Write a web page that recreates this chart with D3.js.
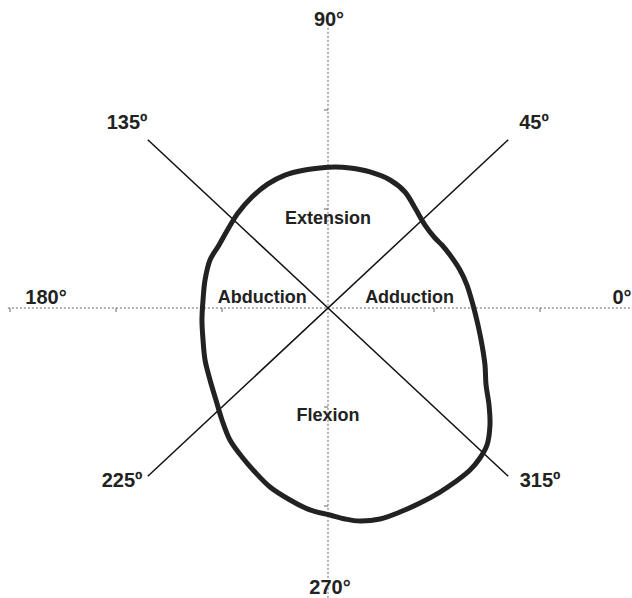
<!DOCTYPE html>
<html><head><meta charset="utf-8">
<script src="https://cdn.jsdelivr.net/npm/d3@7"></script>
<style>body{margin:0;background:#fff}svg{display:block}text{font-family:"Liberation Sans",Arial,sans-serif;font-weight:bold;fill:#222}</style>
</head><body>
<script>
// Angle labels (degrees)
const angleLabels = [0, 45, 90, 135, 180, 225, 270, 315];
// Region labels and their positions in axis units
const regionLabels = ["Extension", "Adduction", "Flexion", "Abduction"];
const regionX = [0, 0.77, 0, -0.62];
const regionY = [0.91, 0.11, -1.08, 0.11];
// Closed trace (x, y) in axis units
const traceX = [0.066,0.208,0.396,0.585,0.726,0.821,0.915,1.009,1.075,1.151,1.245,1.311,1.368,1.415,1.453,1.481,1.491,1.519,1.528,1.500,1.434,1.340,1.198,1.057,0.868,0.679,0.491,0.302,0.160,0.019,-0.170,-0.358,-0.547,-0.689,-0.811,-0.925,-1.000,-1.057,-1.113,-1.160,-1.179,-1.189,-1.179,-1.160,-1.113,-1.028,-0.943,-0.849,-0.717,-0.566,-0.406,-0.217,-0.075];
const traceY = [1.424,1.414,1.374,1.293,1.172,1.010,0.838,0.707,0.636,0.535,0.384,0.232,0.030,-0.172,-0.374,-0.576,-0.778,-0.980,-1.182,-1.384,-1.515,-1.636,-1.758,-1.859,-1.970,-2.061,-2.131,-2.152,-2.131,-2.091,-2.040,-1.939,-1.808,-1.657,-1.505,-1.333,-1.131,-0.929,-0.727,-0.525,-0.323,-0.121,0.081,0.283,0.485,0.636,0.798,0.960,1.121,1.253,1.343,1.394,1.414];
const axisTicks = [-3, -2, -1, 1, 2, 3];
const diagExtent = 1.7;

const W = 632, H = 598;
const x = d3.scaleLinear().domain([-3, 3]).range([10, 646]);
const y = d3.scaleLinear().domain([-3, 3]).range([605, 11]);

const svg = d3.select("body").append("svg").attr("width", W).attr("height", H);

// dotted axes
svg.append("line").attr("x1", x(-3.02)).attr("x2", x(2.88)).attr("y1", y(0)).attr("y2", y(0))
  .attr("stroke", "#666").attr("stroke-width", 1).attr("stroke-dasharray", "2,2");
svg.append("line").attr("x1", x(0)).attr("x2", x(0)).attr("y1", y(2.83)).attr("y2", y(-2.95))
  .attr("stroke", "#666").attr("stroke-width", 1).attr("stroke-dasharray", "2,2");
// ticks
svg.selectAll(".xt").data(axisTicks).join("line").attr("class", "xt")
  .attr("x1", d => x(d)).attr("x2", d => x(d)).attr("y1", y(0)).attr("y2", y(0) + 4)
  .attr("stroke", "#666");
svg.selectAll(".yt").data(axisTicks.filter(d => Math.abs(d) < 2.9)).join("line").attr("class", "yt")
  .attr("x1", x(0) - 4).attr("x2", x(0)).attr("y1", d => y(d)).attr("y2", d => y(d))
  .attr("stroke", "#666");

// diagonals (45°-225° and 135°-315°)
[[1, 1], [-1, 1]].forEach(([sx, sy]) => {
  svg.append("line")
    .attr("x1", x(sx * diagExtent)).attr("y1", y(sy * diagExtent))
    .attr("x2", x(-sx * diagExtent)).attr("y2", y(-sy * diagExtent))
    .attr("stroke", "#111").attr("stroke-width", 1.5);
});

// trace
const pts = traceX.map((v, i) => [x(v), y(traceY[i])]);
svg.append("path").attr("d", d3.line().curve(d3.curveCatmullRomClosed)(pts))
  .attr("fill", "none").attr("stroke", "#222").attr("stroke-width", 5).attr("stroke-linejoin", "round");

// angle labels
const labelPos = {
  0: [622, 304], 45: [534, 129], 90: [329, 26], 135: [127, 129],
  180: [46, 304], 225: [122, 487], 270: [330, 594], 315: [540, 487]
};
svg.selectAll(".al").data(angleLabels).join("text").attr("class", "al")
  .attr("x", d => labelPos[d][0]).attr("y", d => labelPos[d][1]).attr("text-anchor", "middle")
  .attr("font-size", 20)
  .text(d => d + (d % 90 === 0 ? "°" : "º"));

// region labels
svg.selectAll(".rl").data(regionLabels).join("text").attr("class", "rl")
  .attr("x", (d, i) => x(regionX[i]))
  .attr("y", (d, i) => y(regionY[i]) + 6)
  .attr("text-anchor", "middle").attr("font-size", 18)
  .text(d => d);
</script>
</body></html>
